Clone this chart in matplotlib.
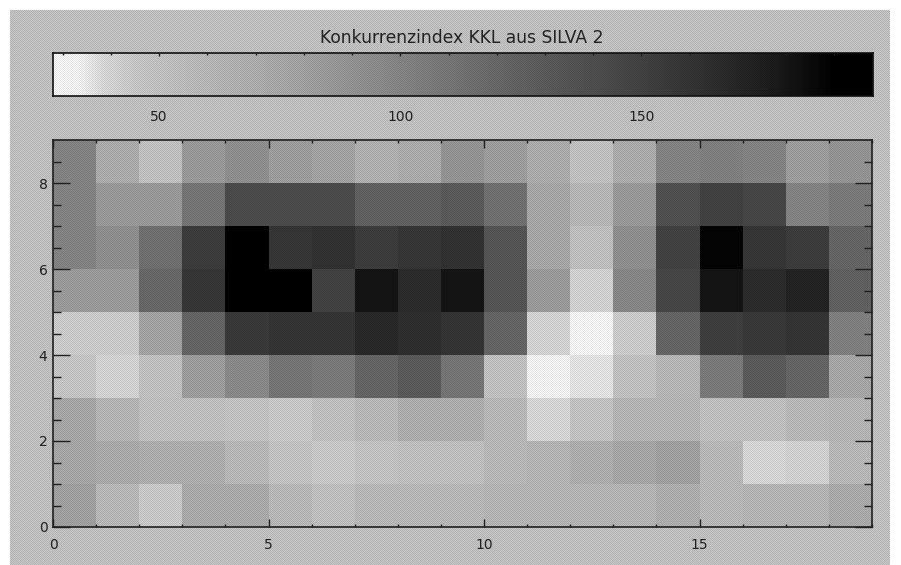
import numpy as np
import matplotlib
matplotlib.use("Agg")
import matplotlib.pyplot as plt
from matplotlib.colors import LinearSegmentedColormap
from matplotlib.patches import Rectangle

title = "Konkurrenzindex KKL aus SILVA 2"
x_major = [0, 5, 10, 15]
y_major = [0, 2, 4, 6, 8]
cbar_major = [50, 100, 150]

# Concurrence index, rows from y=0-1 (bottom) to y=8-9 (top)
row0 = [80, 58, 44, 72, 72, 58, 52, 58, 58, 58, 62, 62, 62, 62, 68, 58, 62, 62, 72]
row1 = [76, 72, 68, 68, 58, 48, 44, 48, 52, 52, 58, 62, 68, 76, 80, 58, 39, 41, 58]
row2 = [76, 62, 52, 52, 48, 44, 52, 58, 68, 68, 58, 39, 48, 62, 62, 52, 52, 58, 62]
row3 = [46, 40, 50, 82, 96, 110, 107, 121, 129, 110, 50, 33, 36, 50, 60, 107, 129, 121, 75]
row4 = [43, 43, 78, 121, 156, 160, 160, 168, 164, 160, 121, 40, 28, 43, 121, 152, 156, 160, 103]
row5 = [84, 84, 119, 158, 192, 192, 150, 180, 166, 180, 134, 84, 41, 98, 146, 180, 166, 172, 125]
row6 = [100, 92, 114, 154, 192, 158, 162, 154, 158, 162, 134, 75, 52, 92, 150, 188, 158, 154, 121]
row7 = [100, 85, 85, 110, 142, 142, 142, 125, 125, 129, 114, 75, 60, 85, 138, 150, 146, 100, 107]
row8 = [100, 71, 50, 85, 92, 82, 78, 66, 71, 89, 82, 71, 50, 71, 100, 103, 100, 82, 89]
grid = np.array([row0, row1, row2, row3, row4, row5, row6, row7, row8], dtype=float)

vmin, vmax = 28.0, 198.0
stops = [(28, 255), (33, 252), (38, 225), (45, 206), (60, 190), (75, 174), (100, 137),
         (125, 100), (150, 68), (175, 32), (190, 0), (198, 0)]
cmap = LinearSegmentedColormap.from_list(
    "konk", [((v - vmin) / (vmax - vmin), (g / 255,) * 3) for v, g in stops], N=256)

W, H = 901, 565
plt.rcParams["font.family"] = ["DejaVu Sans"]
fig = plt.figure(figsize=(W / 100, H / 100), dpi=100, facecolor="white")
fig.add_artist(Rectangle((10 / W, 0), 880 / W, 555 / H, transform=fig.transFigure,
                         facecolor="#c8c8c8", edgecolor="none", zorder=-5))

def place(x0, y0, x1, y1):
    return fig.add_axes([x0 / W, 1 - y1 / H, (x1 - x0) / W, (y1 - y0) / H])

# Colour bar
cax = place(53, 53, 873, 96)
levels = np.linspace(vmin, vmax, 256)
cax.pcolormesh(levels, [0, 1], np.array([levels[:-1]]), cmap=cmap, vmin=vmin, vmax=vmax,
               shading="flat", rasterized=True)
cax.set_xlim(vmin, vmax)
cax.set_yticks([])
cax.set_xticks(cbar_major)
cax.set_xticks(np.arange(30, 198, 10), minor=True)
cax.tick_params(axis="x", which="major", direction="in", top=True, bottom=False, length=2,
                width=1, labelsize=10, pad=10, colors="#222222")
cax.tick_params(axis="x", which="minor", direction="in", top=True, bottom=False, length=1.5, width=1,
                colors="#222222")
for s in cax.spines.values():
    s.set_linewidth(1.2)
    s.set_color("#111111")

# Heat map
ax = place(53, 140, 872, 527)
ax.pcolormesh(np.arange(20), np.arange(10), grid, cmap=cmap, vmin=vmin, vmax=vmax, shading="flat")
ax.set_xlim(0, 19)
ax.set_ylim(0, 9)
ax.set_xticks(x_major)
ax.set_xticks(np.arange(0, 20), minor=True)
ax.set_yticks(y_major)
ax.set_yticks(np.arange(0, 9, 0.5), minor=True)
ax.tick_params(axis="x", which="major", direction="in", top=True, length=6, width=1,
               labelsize=10, pad=8, colors="#222222")
ax.tick_params(axis="x", which="minor", direction="in", top=True, length=2, width=1, colors="#222222")
ax.tick_params(axis="y", which="major", direction="in", right=True, length=12, width=1,
               labelsize=10, pad=4, colors="#222222")
ax.tick_params(axis="y", which="minor", direction="in", right=True, length=6, width=1, colors="#222222")
for s in ax.spines.values():
    s.set_linewidth(1.2)
    s.set_color("#222222")

# Scan texture: fine dark halftone dots over the printed panel
py, px = np.mgrid[0:555, 0:880]
tex = np.zeros((555, 880, 4))
tex[..., 3] = np.where((px + py) % 2 == 0, 0.11, 0.0)
fig.figimage(tex, xo=10, yo=0, origin="upper", zorder=2)

fig.text(462 / W, 1 - 38 / H, title, ha="center", va="center", fontsize=12.3, color="#222222", zorder=3)

fig.savefig("out.png", dpi=100, facecolor="white")
